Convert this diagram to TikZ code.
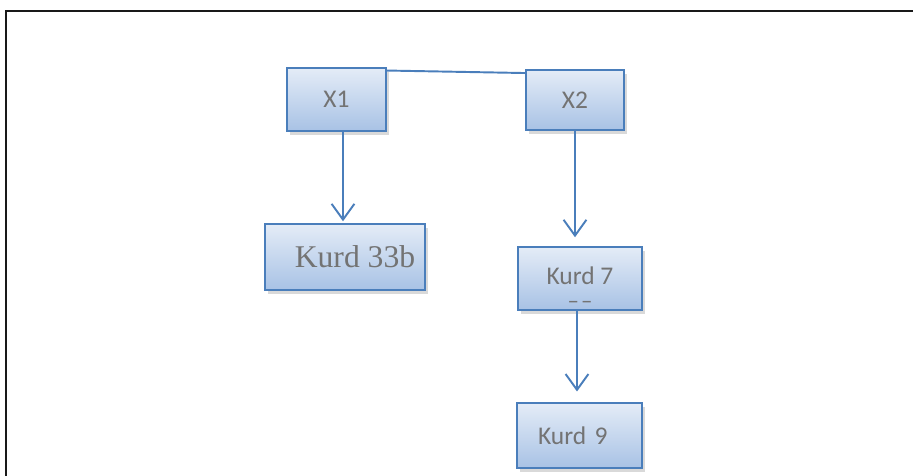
\documentclass[tikz,border=0pt]{standalone}
\usepackage{fontspec}
\setmainfont{Carlito}
\newfontfamily\timesfont{Liberation Serif}
\usetikzlibrary{
    arrows.meta,
    calc,
    positioning,
    shadows
}
\definecolor{boxline}{HTML}{4A7EBB}
\definecolor{boxtop}{HTML}{E4ECF7}
\definecolor{boxbottom}{HTML}{A8C2E5}
\definecolor{boxtext}{HTML}{737373}
\tikzset{
    every picture/.style = {
        > = {Straight Barb[length=9pt, width=13pt]},
        line width = 1.1pt
    },
    block/.style = {
        draw = boxline,
        top color = boxtop,
        bottom color = boxbottom,
        text = boxtext,
        font = \fontsize{14.5}{15}\selectfont,
        inner sep = 0pt,
        align = center,
        drop shadow = {shadow xshift = 1.5pt, shadow yshift = -2pt, opacity = 0.3}
    },
    link/.style = {
        draw = boxline
    }
}

\begin{document}
\begin{tikzpicture}[x = 0.02cm, y = -0.02cm]
    \useasboundingbox (0, 0) rectangle (913, 476);
    \draw[line width = 1.2pt, black!90] (6, 476) -- (6, 11) -- (913, 11);

    \node[block, minimum width = 1.98cm, minimum height = 1.26cm] (x1) at (336.5, 99.5) {X1};
    \node[block, minimum width = 1.96cm, minimum height = 1.2cm] (x2) at (575, 100) {X2};
    \node[block, minimum width = 3.2cm, minimum height = 1.32cm] (k33b) at (345, 257) {\hspace*{0.4cm}\timesfont\fontsize{18}{18}\selectfont Kurd 33b};
    \node[block, minimum width = 2.48cm, minimum height = 1.26cm, text height = 34pt] (k7) at (580, 278.5) {Kurd 7\\[-1.5pt]{\fontsize{13}{15}\selectfont –\kern1.2pt–}};
    \node[block, minimum height = 1.3cm, text width = 1.66cm, inner xsep = 0.42cm, align = left] (k9) at (579.5, 435.5) {Kurd 9};

    \path[link] ([yshift = -0.07cm]x1.north east) -- ([yshift = -0.08cm]x2.north west);
    \path[link, ->, shorten >= 1pt] ([xshift = 0.13cm]x1.south) -- ([xshift = 0.13cm]x1.south |- k33b.north);
    \path[link, ->, shorten >= 5pt] (x2.south) -- (x2.south |- k7.north);
    \path[link, ->, shorten >= 6pt] ([xshift = -0.06cm]k7.south) -- ([xshift = -0.06cm]k7.south |- k9.north);
\end{tikzpicture}
\end{document}
